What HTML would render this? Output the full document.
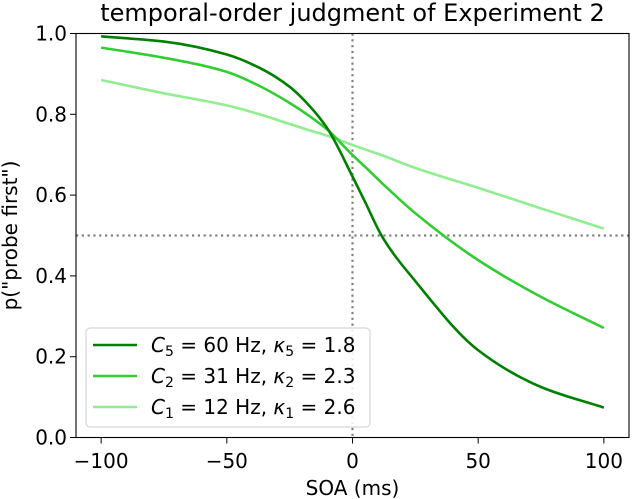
<!DOCTYPE html>
<html><head><meta charset="utf-8"><style>
body{margin:0;background:#fff}
svg{display:block;font-family:"DejaVu Sans","Liberation Sans",sans-serif}
</style></head><body>
<svg width="632" height="499" viewBox="0 0 632 499">
<g id="g"></g>
</svg>
<script>
const soa=[-100,-75,-50,-37,-25,-17,-10,0,5,12,25,50,75,100];
const c5=[0.993,0.98,0.948,0.915,0.868,0.82,0.765,0.646,0.583,0.495,0.387,0.216,0.125,0.074];
const c2=[0.965,0.94,0.905,0.87,0.828,0.795,0.762,0.699,0.67,0.628,0.555,0.439,0.348,0.271];
const c1=[0.885,0.852,0.822,0.80,0.776,0.76,0.747,0.724,0.713,0.698,0.667,0.618,0.567,0.517];
const xTicks=[-100,-50,0,50,100];
const yTicks=[0,0.2,0.4,0.6,0.8,1.0];
const seriesNames=["C5","C2","C1"];
const L=76,R=629,T=33.5,B=437.5;
const X=v=>L+(v+110)/220*(R-L);
const Y=v=>B-v*(B-T);
const g=document.getElementById('g');
const NS='http://www.w3.org/2000/svg';
function mk(t,a,txt){const e=document.createElementNS(NS,t);for(const k in a)e.setAttribute(k,a[k]);if(txt!==undefined)e.textContent=txt;g.appendChild(e);return e;}
let e=mk('line',{x1:X(0),x2:X(0),y1:T,y2:B,stroke:'#808080','stroke-width':2.2,'stroke-dasharray':'2.2 3.6'});

e=mk('line',{x1:L,x2:R,y1:Y(0.5),y2:Y(0.5),stroke:'#808080','stroke-width':2.2,'stroke-dasharray':'2.2 3.6'});

function path(vals){
 const n=soa.length,xs=soa,ys=vals,d=[],m=[];
 for(let i=0;i<n-1;i++)d.push((ys[i+1]-ys[i])/(xs[i+1]-xs[i]));
 m[0]=d[0];m[n-1]=d[n-2];
 for(let i=1;i<n-1;i++){if(d[i-1]*d[i]<=0)m[i]=0;else{const w1=2*(xs[i+1]-xs[i])+(xs[i]-xs[i-1]),w2=(xs[i+1]-xs[i])+2*(xs[i]-xs[i-1]);m[i]=(w1+w2)/(w1/d[i-1]+w2/d[i]);}}
 let s='M'+X(xs[0])+','+Y(ys[0]);
 for(let i=0;i<n-1;i++){const h=xs[i+1]-xs[i];
  s+=' C'+X(xs[i]+h/3)+','+Y(ys[i]+m[i]*h/3)+' '+X(xs[i+1]-h/3)+','+Y(ys[i+1]-m[i+1]*h/3)+' '+X(xs[i+1])+','+Y(ys[i+1]);}
 return s;}
const cols=['#008000','#32cd32','#90ee90'];
[c1,c2,c5].forEach((s,i)=>{const c=cols[2-i];
const el=mk('path',{d:path(s),fill:'none',stroke:c,'stroke-width':2.6});

});
e=mk('rect',{x:L,y:T,width:R-L,height:B-T,fill:'none',stroke:'#000','stroke-width':1.1});

xTicks.forEach(t=>{const l=mk('line',{x1:X(t),x2:X(t),y1:B,y2:B+6,stroke:'#000'});

const tx=mk('text',{x:X(t),y:468,'text-anchor':'middle','font-size':20},(t<0?'\u2212'+(-t):''+t));
});
yTicks.forEach(t=>{const l=mk('line',{x1:L-6,x2:L,y1:Y(t),y2:Y(t),stroke:'#000'});

const tx=mk('text',{x:L-9,y:Y(t)+7,'text-anchor':'end','font-size':20},t.toFixed(1));
});
e=mk('text',{x:X(0),y:495,'text-anchor':'middle','font-size':20},'SOA (ms)');

e=mk('text',{x:0,y:0,'text-anchor':'middle','font-size':20,transform:'translate(17,'+((T+B)/2)+') rotate(-90)'},'p("probe first")');

e=mk('text',{x:(L+R)/2,y:21,'text-anchor':'middle','font-size':24},'temporal-order judgment of Experiment 2');

e=mk('rect',{x:86,y:328,width:284,height:99,rx:4,fill:'#fff','fill-opacity':0.85,stroke:'#ccc'});

const lab=[['5','60','1.8'],['2','31','2.3'],['1','12','2.6']];
lab.forEach((l,i)=>{const y=345+i*31;
const ln=mk('line',{x1:93,x2:137,y1:y,y2:y,stroke:cols[i],'stroke-width':2.6});

const t=mk('text',{x:151,y:y+7,'font-size':20});
t.innerHTML='<tspan font-style="italic">C</tspan><tspan font-size="14" dy="4">'+l[0]+'</tspan><tspan dy="-4"> = '+l[1]+' Hz, </tspan><tspan font-style="italic">κ</tspan><tspan font-size="14" dy="4">'+l[0]+'</tspan><tspan dy="-4"> = '+l[2]+'</tspan>';
});
</script>
</body></html>
